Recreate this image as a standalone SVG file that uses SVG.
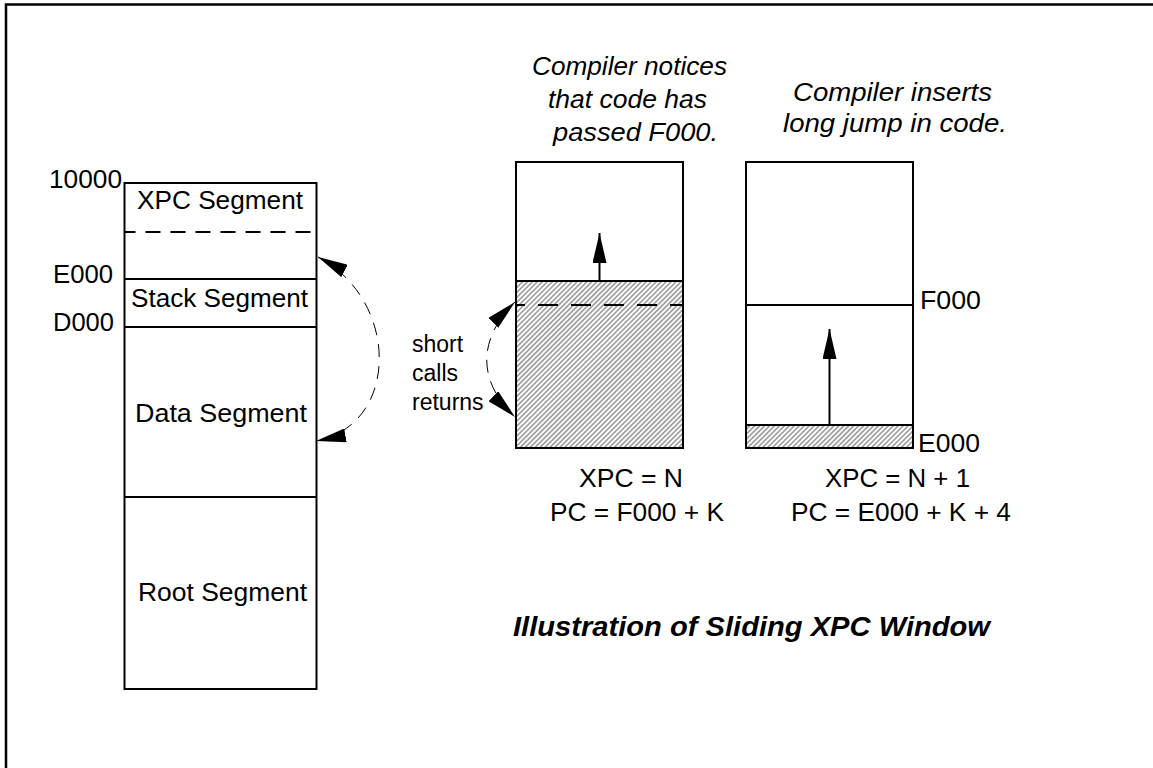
<svg xmlns="http://www.w3.org/2000/svg" width="1153" height="768" viewBox="0 0 1153 768">
<style>
.t{font-family:"Liberation Sans",Arial,sans-serif;font-size:26px;fill:#000}
.s{font-family:"Liberation Sans",Arial,sans-serif;font-size:23px;fill:#000}
.i{font-family:"Liberation Sans",Arial,sans-serif;font-size:26px;font-style:italic;fill:#000}
.ti{font-family:"Liberation Sans",Arial,sans-serif;font-size:28px;font-style:italic;font-weight:bold;fill:#000}
.box{fill:#fff;stroke:#000;stroke-width:2}
.ln{stroke:#000;stroke-width:2;fill:none}
.curve{stroke:#000;stroke-width:1;fill:none;stroke-dasharray:13 9}
</style>
<defs>
<pattern id="hatch" patternUnits="userSpaceOnUse" width="3.5" height="3.5" patternTransform="rotate(45)">
<rect width="3.5" height="3.5" fill="#fff"/>
<line x1="1.75" y1="0" x2="1.75" y2="3.5" stroke="#4a4a4a" stroke-width="0.9"/>
</pattern>
<marker id="ah" viewBox="0 0 30 14" refX="30" refY="7" markerWidth="30" markerHeight="14" markerUnits="userSpaceOnUse" orient="auto-start-reverse">
<path d="M0,0 L30,7 L0,14 Z" fill="#000"/>
</marker>
</defs>
<rect width="1153" height="768" fill="#fff"/>
<g id="frame">
<path d="M6,768 V4.5 H1153" fill="none" stroke="#000" stroke-width="2.5"/>
</g>
<g id="memory-map">
<rect class="box" x="124.5" y="183" width="192" height="506"/>
<line class="ln" x1="124.5" y1="232" x2="316.5" y2="232" stroke-dasharray="15 10" stroke-dashoffset="4"/>
<line class="ln" x1="124.5" y1="279" x2="316.5" y2="279"/>
<line class="ln" x1="124.5" y1="327" x2="316.5" y2="327"/>
<line class="ln" x1="124.5" y1="497" x2="316.5" y2="497"/>
<text class="t" x="49" y="188" textLength="73" lengthAdjust="spacingAndGlyphs">10000</text>
<text class="t" x="137" y="209" textLength="166" lengthAdjust="spacingAndGlyphs">XPC Segment</text>
<text class="t" x="53" y="283" textLength="60" lengthAdjust="spacingAndGlyphs">E000</text>
<text class="t" x="131" y="307" textLength="177" lengthAdjust="spacingAndGlyphs">Stack Segment</text>
<text class="t" x="53" y="331" textLength="61" lengthAdjust="spacingAndGlyphs">D000</text>
<text class="t" x="135" y="422" textLength="172" lengthAdjust="spacingAndGlyphs">Data Segment</text>
<text class="t" x="138" y="601" textLength="169" lengthAdjust="spacingAndGlyphs">Root Segment</text>
</g>
<g id="window-before">
<rect class="box" x="516" y="162" width="167" height="286"/>
<rect x="516" y="281" width="167" height="167" fill="url(#hatch)" stroke="#000" stroke-width="2"/>
<line class="ln" x1="516" y1="305" x2="683" y2="305" stroke-dasharray="20 13" stroke-dashoffset="11"/>
<text class="i" x="532" y="75" textLength="195" lengthAdjust="spacingAndGlyphs">Compiler notices</text>
<text class="i" x="548" y="108" textLength="159" lengthAdjust="spacingAndGlyphs">that code has</text>
<text class="i" x="553" y="141" textLength="165" lengthAdjust="spacingAndGlyphs">passed F000.</text>
<text class="t" x="579" y="487" textLength="104" lengthAdjust="spacingAndGlyphs">XPC = N</text>
<text class="t" x="550" y="521" textLength="174" lengthAdjust="spacingAndGlyphs">PC = F000 + K</text>
</g>
<g id="window-after">
<rect class="box" x="746" y="162" width="167" height="286"/>
<line class="ln" x1="746" y1="305" x2="913" y2="305"/>
<rect x="746" y="425" width="167" height="23" fill="url(#hatch)" stroke="#000" stroke-width="2"/>
<text class="i" x="793" y="101" textLength="199" lengthAdjust="spacingAndGlyphs">Compiler inserts</text>
<text class="i" x="783" y="132" textLength="224" lengthAdjust="spacingAndGlyphs">long jump in code.</text>
<text class="t" x="920" y="309" textLength="61" lengthAdjust="spacingAndGlyphs">F000</text>
<text class="t" x="918" y="452" textLength="62" lengthAdjust="spacingAndGlyphs">E000</text>
<text class="t" x="825" y="487" textLength="145" lengthAdjust="spacingAndGlyphs">XPC = N + 1</text>
<text class="t" x="791" y="521" textLength="220" lengthAdjust="spacingAndGlyphs">PC = E000 + K + 4</text>
</g>
<g id="short-calls-label">
<text class="s" x="412" y="352">short</text>
<text class="s" x="412" y="381">calls</text>
<text class="s" x="412" y="410">returns</text>
</g>
<g id="title">
<text class="ti" x="513" y="636" textLength="477" lengthAdjust="spacingAndGlyphs">Illustration of Sliding XPC Window</text>
</g>
<g id="connectors">
<path class="curve" d="M318,257 C400,300 400,425 316,441" marker-start="url(#ah)" marker-end="url(#ah)"/>
<path class="curve" d="M515,302 C488,328 468,372 515,417" marker-start="url(#ah)" marker-end="url(#ah)"/>
<line class="ln" x1="599.5" y1="281" x2="599.5" y2="233" marker-end="url(#ah)"/>
<line class="ln" x1="829.5" y1="425" x2="829.5" y2="329" marker-end="url(#ah)"/>
</g>
</svg>
